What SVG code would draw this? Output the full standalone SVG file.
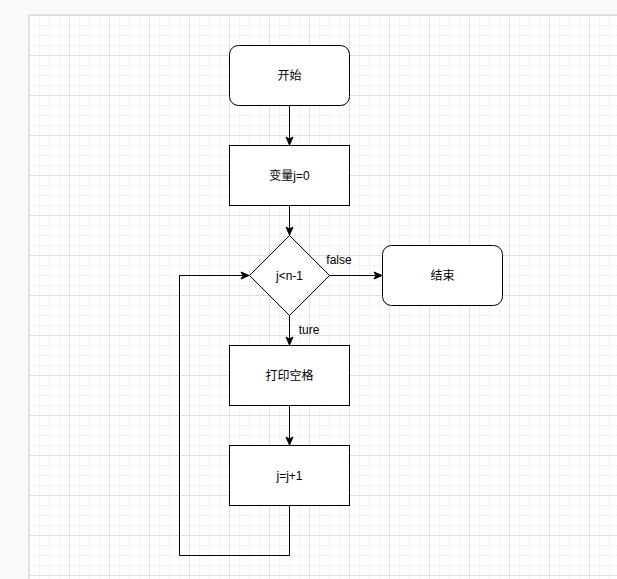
<svg xmlns="http://www.w3.org/2000/svg" width="617" height="579" viewBox="0 0 617 579">
<style>
.node{fill:#ffffff;stroke:#000000;stroke-width:1}
.lbl{font-family:"Liberation Sans","Noto Sans CJK SC",sans-serif;font-size:12px;fill:#000000;text-anchor:middle;dominant-baseline:central}
.edge{fill:none;stroke:#000000;stroke-width:1}
</style>
<defs>
<pattern id="grid" x="29" y="15" width="40" height="40" patternUnits="userSpaceOnUse">
<rect x="10" y="0" width="1" height="40" fill="#f3f3f3"/>
<rect x="20" y="0" width="1" height="40" fill="#f3f3f3"/>
<rect x="30" y="0" width="1" height="40" fill="#f3f3f3"/>
<rect x="0" y="10" width="40" height="1" fill="#f3f3f3"/>
<rect x="0" y="20" width="40" height="1" fill="#f3f3f3"/>
<rect x="0" y="30" width="40" height="1" fill="#f3f3f3"/>
<rect x="0" y="0" width="1" height="40" fill="#e0e0e0"/>
<rect x="0" y="0" width="40" height="1" fill="#e0e0e0"/>
</pattern>
<marker id="arr" markerUnits="userSpaceOnUse" markerWidth="10" markerHeight="10" viewBox="0 0 10 10" refX="9" refY="5" orient="auto">
<path d="M1,1.5 L9,5 L1,8.5 L3,5 Z" fill="#000000" stroke="#000000" stroke-width="1"/>
</marker>
</defs>
<rect x="0" y="0" width="617" height="579" fill="#f8f9fa"/>
<rect x="28" y="14" width="589" height="565" fill="#e4e4e4"/>
<rect x="29" y="15" width="588" height="564" fill="#ffffff"/>
<rect x="29" y="15" width="588" height="564" fill="url(#grid)"/>
<g id="connectors">
<path class="edge" d="M289.5,105.5 V145" marker-end="url(#arr)"/>
<path class="edge" d="M289.5,205.5 V235" marker-end="url(#arr)"/>
<path class="edge" d="M329.5,275.5 H382" marker-end="url(#arr)"/>
<path class="edge" d="M289.5,315.5 V345" marker-end="url(#arr)"/>
<path class="edge" d="M289.5,405.5 V445" marker-end="url(#arr)"/>
<path class="edge" d="M289.5,505.5 V555.5 H179.5 V275.5 H249" marker-end="url(#arr)"/>
<text class="lbl" x="339" y="260">false</text>
<text class="lbl" x="309" y="330">ture</text>
</g>
<g id="start">
<rect class="node" x="229.5" y="45.5" width="120" height="60" rx="9" ry="9"/>
<text class="lbl" x="289.5" y="75.5">开始</text>
</g>
<g id="init">
<rect class="node" x="229.5" y="145.5" width="120" height="60"/>
<text class="lbl" x="289.5" y="175.5">变量j=0</text>
</g>
<g id="cond">
<path class="node" d="M289.5,235.5 L329.5,275.5 L289.5,315.5 L249.5,275.5 Z"/>
<text class="lbl" x="289.5" y="275.5">j&lt;n-1</text>
</g>
<g id="end">
<rect class="node" x="382.5" y="245.5" width="120" height="60" rx="9" ry="9"/>
<text class="lbl" x="442.5" y="275.5">结束</text>
</g>
<g id="print">
<rect class="node" x="229.5" y="345.5" width="120" height="60"/>
<text class="lbl" x="289.5" y="375.5">打印空格</text>
</g>
<g id="incr">
<rect class="node" x="229.5" y="445.5" width="120" height="60"/>
<text class="lbl" x="289.5" y="475.5">j=j+1</text>
</g>
</svg>
